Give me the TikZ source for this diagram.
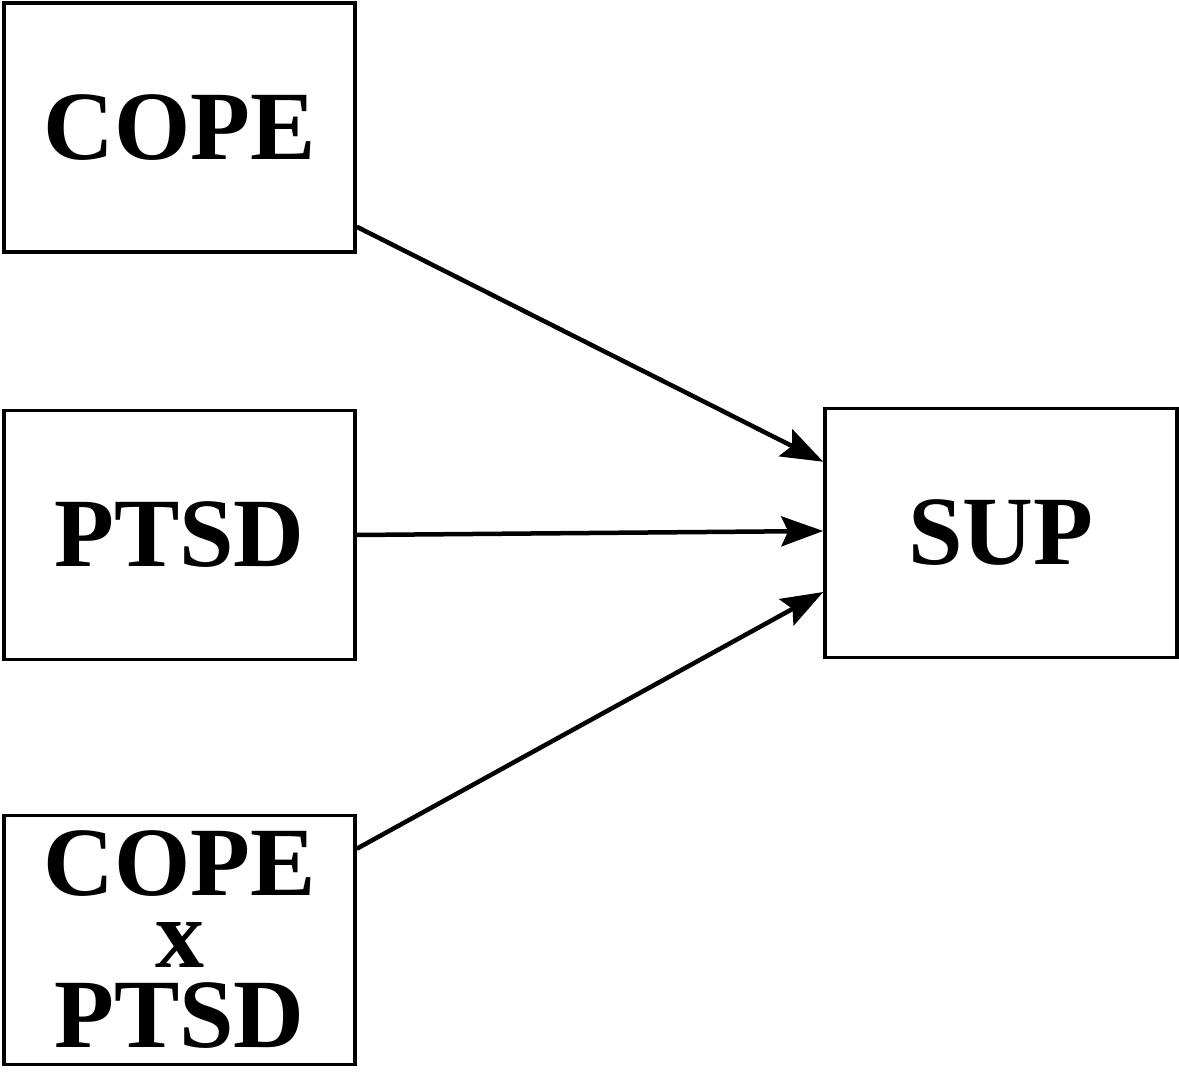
\documentclass[tikz,border=0pt]{standalone}
\usepackage{fontspec}
\setmainfont{Liberation Serif}[BoldFont={Liberation Serif Bold}]
\usetikzlibrary{arrows.meta}
\begin{document}
\begin{tikzpicture}[x=1pt,y=1pt,
  box/.style={draw,line width=3.5pt,minimum width=351pt,minimum height=249pt,inner sep=0pt,
    font=\fontsize{98}{72}\selectfont\bfseries,align=center},
  conn/.style={line width=4.5pt,-{Stealth[length=42pt,width=30pt,inset=7pt]}}]
\useasboundingbox (0,0) rectangle (1179,1080);
\node[box] (cope) at (179.5,952.5) {COPE};
\node[box] (ptsd) at (179.5,545) {PTSD};
\node[box] (cx) at (179.5,140) {COPE\\x\\[8pt]PTSD};
\node[box,minimum width=352pt] (sup) at (1001,547) {SUP};
\draw[conn] ([yshift=27pt]cope.south east) -- ([yshift=-55pt]sup.north west);
\draw[conn] (ptsd.east) -- ([yshift=2pt]sup.west);
\draw[conn] ([yshift=-35pt]cx.north east) -- ([yshift=-59pt]sup.west);
\end{tikzpicture}
\end{document}
